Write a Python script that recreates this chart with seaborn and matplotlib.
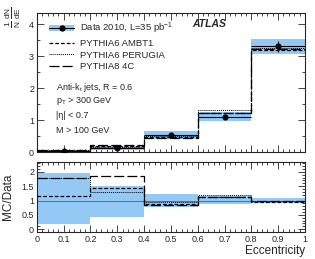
import numpy as np
import pandas as pd
import matplotlib
matplotlib.use("Agg")
import matplotlib.pyplot as plt
from matplotlib.ticker import MultipleLocator
import seaborn as sns

# ---- data ----
bin_edges = [0.0, 0.2, 0.4, 0.6, 0.8, 1.0]
data_vals = [0.030, 0.125, 0.53, 1.09, 3.31]
data_stat = [0.01, 0.02, 0.03, 0.07, 0.17]
data_lo = [0.005, 0.055, 0.41, 0.96, 3.06]
data_hi = [0.059, 0.19, 0.66, 1.25, 3.55]
mc_ambt1 = [0.0345, 0.178, 0.461, 1.221, 3.178]
mc_perugia = [0.054, 0.1625, 0.5035, 1.308, 3.244]
mc_4c = [0.0534, 0.231, 0.4505, 1.221, 3.211]
legend_labels = ["Data 2010, L=35 pb$^{-1}$", "PYTHIA6 AMBT1", "PYTHIA6 PERUGIA", "PYTHIA8 4C"]
info_lines = ["Anti-k$_{t}$ jets, R = 0.6", "p$_{T}$ > 300 GeV", "|\u03b7| < 0.7", "M > 100 GeV"]

sns.set_theme(style="ticks")
plt.rcParams['font.family'] = ['Liberation Sans', 'DejaVu Sans']
plt.rcParams['mathtext.fontset'] = 'custom'
plt.rcParams['mathtext.rm'] = 'Liberation Sans'
plt.rcParams['mathtext.it'] = 'Liberation Sans:italic'
plt.rcParams['mathtext.default'] = 'regular'

edges = np.array(bin_edges)
centers = 0.5 * (edges[:-1] + edges[1:])
halfw = 0.5 * np.diff(edges)
d = np.array(data_vals)

fig = plt.figure(figsize=(3.15, 2.59), dpi=100)
ax1 = fig.add_axes([0.117, 0.413, 0.851, 0.537])
ax2 = fig.add_axes([0.117, 0.104, 0.851, 0.271])

band_col = "#94c9f5"
mc_styles = [
    (mc_ambt1, dict(color="black", lw=0.9, dashes=(3, 1.6))),
    (mc_perugia, dict(color="black", lw=0.7, dashes=(1, 1))),
    (mc_4c, dict(color="black", lw=0.9, dashes=(8, 2.5))),
]

def step_df(vals):
    return pd.DataFrame({"x": edges, "y": list(vals) + [vals[-1]]})

# --- top panel ---
ax1.fill_between(edges, list(data_lo) + [data_lo[-1]], list(data_hi) + [data_hi[-1]],
                 step="post", color=band_col, lw=0, zorder=1)
for vals, st in mc_styles:
    sns.lineplot(data=step_df(vals), x="x", y="y", ax=ax1, estimator=None, sort=False,
                 drawstyle="steps-post", zorder=3, **st)
ax1.errorbar(centers, d, yerr=data_stat, xerr=halfw, fmt="none", ecolor="black",
             elinewidth=0.8, zorder=4)
sns.scatterplot(x=centers, y=d, ax=ax1, color="black", s=16, zorder=5, edgecolor="black")

ax1.set_xlim(0, 1)
ax1.set_ylim(0, 4.35)
ax1.set_xlabel("")
ax1.set_ylabel("")
ax1.yaxis.set_major_locator(MultipleLocator(1))
ax1.yaxis.set_minor_locator(MultipleLocator(0.5))

# legend
from matplotlib.lines import Line2D
from matplotlib.patches import Patch
h_data = (Patch(facecolor=band_col, lw=0),
          Line2D([], [], color="black", lw=0.8, marker="o", ms=3.5))
h_mc = [Line2D([], [], **st) for _, st in mc_styles]
ax1.legend([h_data] + h_mc, legend_labels, loc="upper left",
           bbox_to_anchor=(0.02, 0.99), frameon=False, fontsize=6.8,
           handlelength=2.7, handletextpad=0.6, labelspacing=0.28,
           borderaxespad=0.3)

ax1.text(0.58, 0.92, "ATLAS", transform=ax1.transAxes, fontsize=7.5,
         fontweight="bold", fontstyle="italic", va="center", ha="left")
ys = [0.465, 0.37, 0.26, 0.155]
for t, yy in zip(info_lines, ys):
    ax1.text(0.07, yy, t, transform=ax1.transAxes, fontsize=6.5, va="center", ha="left")

# --- ratio panel ---
rlo = np.array(data_lo) / d
rhi = np.array(data_hi) / d
ax2.fill_between(edges, list(rlo) + [rlo[-1]], list(rhi) + [rhi[-1]],
                 step="post", color=band_col, lw=0, zorder=1)
ax2.axhline(1.0, color="#3c8c3c", lw=0.7, zorder=2)
for vals, st in mc_styles:
    r = np.array(vals) / d
    sns.lineplot(data=step_df(r), x="x", y="y", ax=ax2, estimator=None, sort=False,
                 drawstyle="steps-post", zorder=3, **st)
ax2.set_xlim(0, 1)
ax2.set_ylim(-0.1, 2.35)
ax2.set_ylabel("MC/Data", fontsize=8.5)
ax2.set_xlabel("Eccentricity", fontsize=8.5, loc="right", labelpad=1)

for ax in (ax1, ax2):
    ax.xaxis.set_major_locator(MultipleLocator(0.1))
    ax.xaxis.set_minor_locator(MultipleLocator(0.02))
    ax.tick_params(which="both", direction="in", top=True, right=True,
                   labelsize=6.5, width=0.6, pad=2)
    ax.tick_params(which="major", length=5)
    ax.tick_params(which="minor", length=2.5)
    for s in ax.spines.values():
        s.set_linewidth(0.8)
ax1.set_xticklabels([])
ax2.set_xticks(np.arange(0, 1.01, 0.1))
ax2.set_xticklabels(["0", "0.1", "0.2", "0.3", "0.4", "0.5", "0.6", "0.7", "0.8", "0.9", "1"])
ax2.set_yticks([0, 0.5, 1, 1.5, 2])
ax2.set_yticklabels(["0", "0.5", "1", "1.5", "2"])
ax2.yaxis.set_minor_locator(MultipleLocator(0.1))
ax2.yaxis.set_label_coords(-0.085, 0.5)

fig.text(0.04, 0.975, r"$\frac{1}{N}\,\frac{dN}{dE}$", rotation=90, fontsize=8.5,
         va="top", ha="center")

fig.savefig("out.png", dpi=100)
